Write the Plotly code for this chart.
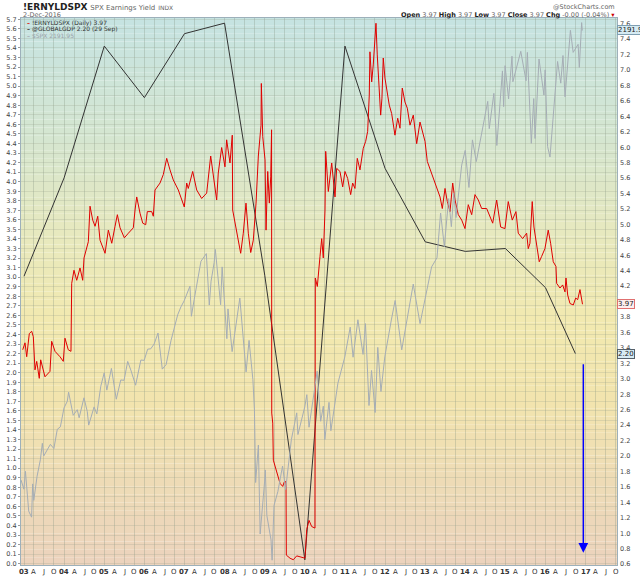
import pandas as pd
import plotly.graph_objects as go

# !ERNYLDSPX (daily), decimal year -> yield (right scale)
red_t = [2002.968, 2003.025, 2003.067, 2003.132, 2003.192, 2003.232, 2003.274, 2003.317, 2003.381, 2003.416,
         2003.523, 2003.648, 2003.690, 2003.773, 2003.897, 2003.980, 2004.022, 2004.104, 2004.171, 2004.189,
         2004.246, 2004.314, 2004.396, 2004.463, 2004.496, 2004.578, 2004.603, 2004.645, 2004.712, 2004.770,
         2004.837, 2004.894, 2005.019, 2005.101, 2005.186, 2005.268, 2005.326, 2005.393, 2005.500, 2005.600,
         2005.724, 2005.767, 2005.809, 2005.891, 2005.959, 2006.033, 2006.073, 2006.183, 2006.223, 2006.265,
         2006.390, 2006.472, 2006.557, 2006.639, 2006.721, 2006.846, 2006.996, 2007.055, 2007.095, 2007.205,
         2007.305, 2007.429, 2007.554, 2007.654, 2007.718, 2007.803, 2007.843, 2007.928, 2008.010, 2008.052,
         2008.135, 2008.192, 2008.202, 2008.259, 2008.317, 2008.401, 2008.466, 2008.533, 2008.591, 2008.651,
         2008.715, 2008.783, 2008.840, 2008.907, 2008.915, 2008.950, 2009.007, 2009.032, 2009.074, 2009.114,
         2009.149, 2009.170, 2009.174, 2009.199, 2009.214, 2009.256, 2009.299, 2009.381, 2009.448, 2009.488,
         2009.530, 2009.538, 2009.630, 2009.712, 2009.797, 2009.922, 2010.004, 2010.046, 2010.104, 2010.171,
         2010.253, 2010.261, 2010.311, 2010.378, 2010.420, 2010.460, 2010.503, 2010.520, 2010.545, 2010.585,
         2010.670, 2010.752, 2010.794, 2010.876, 2010.944, 2011.001, 2011.068, 2011.143, 2011.193, 2011.250,
         2011.308, 2011.375, 2011.457, 2011.517, 2011.567, 2011.607, 2011.624, 2011.667, 2011.706, 2011.749,
         2011.774, 2011.806, 2011.856, 2011.891, 2011.923, 2011.956, 2011.998, 2012.055, 2012.105, 2012.165,
         2012.247, 2012.315, 2012.372, 2012.429, 2012.496, 2012.554, 2012.621, 2012.703, 2012.788, 2012.870,
         2012.928, 2012.995, 2013.052, 2013.137, 2013.219, 2013.302, 2013.369, 2013.426, 2013.494, 2013.551,
         2013.618, 2013.685, 2013.743, 2013.825, 2013.910, 2013.992, 2014.074, 2014.159, 2014.241, 2014.324,
         2014.408, 2014.533, 2014.683, 2014.782, 2014.882, 2014.989, 2015.071, 2015.171, 2015.263, 2015.321,
         2015.430, 2015.530, 2015.570, 2015.612, 2015.669, 2015.712, 2015.779, 2015.844, 2015.904, 2015.986,
         2016.068, 2016.128, 2016.193, 2016.260, 2016.278, 2016.360, 2016.427, 2016.485, 2016.510, 2016.552,
         2016.609, 2016.691, 2016.751, 2016.801, 2016.858, 2016.900, 2016.921]
red_v = [3.38, 3.47, 3.29, 3.59, 3.62, 3.55, 3.12, 3.23, 3.01, 3.25,
         3.03, 3.10, 3.49, 3.36, 3.29, 3.23, 3.53, 3.38, 3.36, 4.24,
         4.41, 4.28, 4.44, 4.28, 4.57, 4.72, 4.78, 5.24, 5.06, 4.98,
         5.11, 4.80, 4.63, 4.93, 4.76, 4.98, 5.13, 4.96, 4.83, 4.89,
         4.96, 5.19, 5.36, 5.15, 5.02, 5.00, 5.17, 5.17, 5.11, 5.45,
         5.54, 5.65, 5.86, 5.71, 5.58, 5.45, 5.23, 5.54, 5.47, 5.69,
         5.45, 5.34, 5.41, 5.89, 5.62, 5.32, 5.67, 6.00, 5.75, 6.10,
         5.80, 6.16, 5.19, 5.02, 4.85, 4.63, 4.89, 5.28, 4.89, 4.64,
         4.80, 5.28, 5.89, 6.29, 6.83, 6.14, 5.84, 4.93, 5.69, 5.28,
         5.62, 6.23, 2.56, 2.43, 1.95, 1.87, 1.78, 1.65, 1.61, 1.67,
         1.67, 0.72, 0.68, 0.66, 0.71, 0.69, 0.68, 1.05, 1.17, 1.09,
         1.07, 4.31, 4.20, 4.59, 4.82, 4.57, 5.19, 5.95, 5.69, 5.43,
         5.80, 5.36, 5.73, 5.69, 5.49, 5.69, 5.60, 5.39, 5.54, 5.47,
         5.86, 5.71, 5.99, 6.08, 6.21, 6.68, 7.24, 6.85, 7.07, 7.46,
         7.61, 7.20, 6.81, 6.42, 6.64, 7.16, 6.90, 6.72, 6.55, 6.44,
         6.16, 6.38, 6.25, 6.77, 6.59, 6.51, 6.29, 6.42, 6.05, 6.33,
         6.21, 6.08, 5.82, 5.69, 5.56, 5.45, 5.36, 5.21, 5.47, 5.30,
         5.17, 5.54, 5.32, 5.13, 5.06, 4.95, 5.26, 5.13, 5.39, 5.32,
         5.21, 5.21, 5.02, 5.32, 4.97, 4.95, 5.30, 5.06, 5.17, 4.89,
         4.82, 4.89, 4.69, 4.76, 5.30, 4.97, 4.72, 4.52, 4.59, 4.69,
         4.93, 4.76, 4.52, 4.46, 4.24, 4.18, 4.22, 4.13, 4.31, 4.09,
         3.98, 3.96, 4.05, 4.03, 4.16, 3.98, 3.97]

# @GLOBALGDP (left scale)
gdp_dates = ["2003-01-01", "2004-01-01", "2005-01-01", "2006-01-01", "2007-01-01", "2008-01-01",
             "2009-01-01", "2010-01-01", "2011-01-01", "2012-01-01", "2013-01-01", "2014-01-01",
             "2015-01-01", "2016-01-01", "2016-09-29"]
gdp_vals = [3.01, 4.04, 5.42, 4.88, 5.55, 5.66, 3.02, 0.04, 5.42, 4.14, 3.37, 3.27, 3.30, 2.89, 2.20]

# $SPX (own hidden scale)
spx_dates = ["2002-12-05", "2002-12-31", "2003-01-14", "2003-01-31", "2003-02-13", "2003-03-11", "2003-03-21",
             "2003-03-31", "2003-04-30", "2003-05-30", "2003-06-17", "2003-06-30", "2003-07-31", "2003-08-29",
             "2003-09-30", "2003-10-31", "2003-11-28", "2003-12-31", "2004-01-30", "2004-02-11", "2004-03-24",
             "2004-04-30", "2004-05-17", "2004-06-30", "2004-07-30", "2004-08-12", "2004-09-30", "2004-10-25",
             "2004-11-30", "2004-12-31", "2005-01-24", "2005-03-07", "2005-04-20", "2005-05-31", "2005-06-30",
             "2005-08-02", "2005-08-31", "2005-10-13", "2005-11-30", "2005-12-30", "2006-01-31", "2006-02-28",
             "2006-03-31", "2006-05-05", "2006-06-13", "2006-07-18", "2006-08-31", "2006-09-29", "2006-10-31",
             "2006-11-30", "2006-12-29", "2007-02-20", "2007-03-05", "2007-03-30", "2007-04-30", "2007-05-31",
             "2007-07-19", "2007-08-15", "2007-08-31", "2007-09-28", "2007-10-09", "2007-11-26", "2007-12-10",
             "2008-01-22", "2008-02-01", "2008-03-10", "2008-05-19", "2008-07-15", "2008-08-11", "2008-09-15",
             "2008-09-29", "2008-10-10", "2008-11-04", "2008-11-20", "2008-12-31", "2009-01-06", "2009-01-20",
             "2009-02-27", "2009-03-09", "2009-03-26", "2009-04-30", "2009-06-12", "2009-07-10", "2009-08-31",
             "2009-10-19", "2009-10-30", "2009-12-31", "2010-01-19", "2010-02-08", "2010-04-23", "2010-05-25",
             "2010-06-18", "2010-07-02", "2010-08-09", "2010-08-26", "2010-10-29", "2010-12-31", "2011-02-18",
             "2011-03-16", "2011-04-29", "2011-06-15", "2011-07-07", "2011-08-08", "2011-08-31", "2011-10-03",
             "2011-10-27", "2011-11-25", "2011-12-30", "2012-02-29", "2012-04-02", "2012-06-01", "2012-07-31",
             "2012-09-14", "2012-11-15", "2012-12-31", "2013-02-28", "2013-04-18", "2013-05-21", "2013-06-24",
             "2013-08-02", "2013-08-27", "2013-09-18", "2013-10-08", "2013-11-29", "2013-12-31", "2014-02-03",
             "2014-03-07", "2014-04-11", "2014-07-24", "2014-08-07", "2014-09-18", "2014-10-15", "2014-12-05",
             "2014-12-16", "2014-12-29", "2015-01-30", "2015-03-02", "2015-03-10", "2015-05-21", "2015-07-08",
             "2015-07-20", "2015-08-25", "2015-09-16", "2015-09-28", "2015-11-03", "2015-12-18", "2015-12-29",
             "2016-01-20", "2016-02-11", "2016-04-20", "2016-05-19", "2016-06-08", "2016-06-27", "2016-08-15",
             "2016-09-09", "2016-10-24", "2016-11-04", "2016-11-25", "2016-12-01", "2016-12-02"]
spx_vals = [906, 880, 931, 856, 817, 800, 895, 848, 917, 964, 1011, 975, 990, 1008,
            996, 1051, 1058, 1112, 1131, 1157, 1091, 1107, 1084, 1141, 1102, 1063, 1115, 1095,
            1174, 1212, 1163, 1225, 1137, 1192, 1191, 1245, 1220, 1177, 1249, 1248, 1280, 1281,
            1295, 1326, 1223, 1236, 1304, 1336, 1378, 1401, 1418, 1460, 1374, 1421, 1482, 1531,
            1553, 1406, 1474, 1527, 1565, 1407, 1515, 1310, 1395, 1273, 1426, 1215, 1305, 1193,
            1106, 899, 1006, 752, 903, 935, 805, 735, 677, 833, 873, 946, 879, 1021,
            1098, 1036, 1115, 1150, 1057, 1217, 1074, 1117, 1022, 1128, 1047, 1183, 1258, 1343,
            1257, 1364, 1265, 1353, 1119, 1219, 1099, 1285, 1159, 1258, 1366, 1419, 1278, 1379,
            1466, 1353, 1426, 1515, 1541, 1669, 1573, 1710, 1630, 1726, 1656, 1806, 1848, 1742,
            1878, 1816, 1988, 1910, 2011, 1862, 2075, 1973, 2090, 1995, 2117, 2044, 2131, 2047,
            2128, 1868, 1996, 1882, 2109, 2006, 2078, 1859, 1829, 2102, 2040, 2119, 2001, 2191,
            2128, 2151, 2085, 2213, 2191, 2191.9]

# right-hand scale labels (earnings yield)
right_ticks = [round(0.6 + 0.2 * i, 1) for i in range(36)]


def dec_year(y):
    yr = int(y)
    start = pd.Timestamp(yr, 1, 1)
    return start + (pd.Timestamp(yr + 1, 1, 1) - start) * (y - yr)


red_dates = [dec_year(t) for t in red_t]

RED = "#e00000"
BLACK = "#333333"
GRAY = "#a5adb5"
FONT = "DejaVu Sans"

fig = go.Figure()
fig.add_trace(go.Scatter(x=pd.to_datetime(spx_dates), y=spx_vals, yaxis="y3", mode="lines",
                         line=dict(color=GRAY, width=1)))
fig.add_trace(go.Scatter(x=red_dates, y=red_v, yaxis="y2", mode="lines",
                         line=dict(color=RED, width=1)))
fig.add_trace(go.Scatter(x=pd.to_datetime(gdp_dates), y=gdp_vals, yaxis="y", mode="lines",
                         line=dict(color=BLACK, width=1)))

# quarterly ticks: year number at Jan, A / J / O for the other quarters
tickvals, ticktext = [], []
for yr in range(2003, 2018):
    for m, lab in [(1, None), (4, "A"), (7, "J"), (10, "O")]:
        tickvals.append(pd.Timestamp(yr, m, 1))
        ticktext.append("<b>%02d</b>" % (yr % 100) if lab is None else lab)

# background gradient (bottom -> top)
stops = [(0.0, (236, 211, 189)), (0.16, (238, 220, 182)), (0.3, (242, 228, 174)),
         (0.45, (242, 233, 176)), (0.6, (232, 233, 190)), (0.78, (213, 230, 208)), (1.0, (197, 227, 226))]
shapes = []
n = 70
for i in range(n):
    p = (i + 0.5) / n
    for (a, ca), (b, cb) in zip(stops[:-1], stops[1:]):
        if a <= p <= b:
            f = (p - a) / (b - a)
            c = tuple(int(round(ca[k] + (cb[k] - ca[k]) * f)) for k in range(3))
            break
    shapes.append(dict(type="rect", xref="paper", yref="paper", x0=0, x1=1, y0=i / n, y1=(i + 1) / n,
                       fillcolor="rgb(%d,%d,%d)" % c, line=dict(width=0), layer="below"))

ann = []
# x tick labels
for tv, tt in zip(tickvals, ticktext):
    if tv > dec_year(2017.781):
        continue
    ann.append(dict(x=tv, y=0, xref="x", yref="paper", yanchor="top", yshift=-1, showarrow=False,
                    text=tt, font=dict(family=FONT, size=7, color="#333")))
# right-hand tick labels
for v in right_ticks:
    ann.append(dict(x=1, y=v, xref="paper", yref="y2", xanchor="left", xshift=1, showarrow=False,
                    text="%.1f" % v, font=dict(family=FONT, size=6.5, color="#444")))

ann += [
    dict(x=0, y=1.021, xref="paper", yref="paper", xanchor="left", yanchor="middle", showarrow=False,
         text="<b>!ERNYLDSPX</b> <span style='font-size:7px;color:#666'>SPX Earnings Yield</span>"
              " <span style='font-size:6px;color:#666'>INDX</span>",
         font=dict(family=FONT, size=9, color="#222")),
    dict(x=0, y=1.005, xref="paper", yref="paper", xanchor="left", yanchor="middle", showarrow=False,
         text="2-Dec-2016", font=dict(family=FONT, size=6.5, color="#666")),
    dict(x=1, y=1.021, xref="paper", yref="paper", xanchor="right", yanchor="middle", showarrow=False,
         text="@StockCharts.com", font=dict(family=FONT, size=6.5, color="#666")),
    dict(x=1, y=1.005, xref="paper", yref="paper", xanchor="right", yanchor="middle", showarrow=False,
         text="<b>Open</b> <span style='color:#666'>3.97</span> <b>High</b> <span style='color:#666'>3.97</span>"
              " <b>Low</b> <span style='color:#666'>3.97</span> <b>Close</b> <span style='color:#666'>3.97</span>"
              " <b>Chg</b> <span style='color:#666'>-0.00 (-0.04%)</span> <span style='color:#c00'>▾</span>",
         font=dict(family=FONT, size=6.5, color="#222")),
    dict(x=0.006, y=0.9915, xref="paper", yref="paper", xanchor="left", yanchor="middle", showarrow=False,
         text="<span style='color:%s'><b>–</b></span> !ERNYLDSPX (Daily) %.2f" % (RED, red_v[-1]),
         font=dict(family=FONT, size=6, color="#333")),
    dict(x=0.006, y=0.980, xref="paper", yref="paper", xanchor="left", yanchor="middle", showarrow=False,
         text="<span style='color:%s'><b>–</b></span> @GLOBALGDP %.2f (29 Sep)" % (BLACK, gdp_vals[-1]),
         font=dict(family=FONT, size=6, color="#333")),
    dict(x=0.006, y=0.9685, xref="paper", yref="paper", xanchor="left", yanchor="middle", showarrow=False,
         text="<span style='color:%s'><b>–</b></span> $SPX %.2f" % (GRAY, 2191.95),
         font=dict(family=FONT, size=6, color="#9aa2aa")),
    # last-value tags on the right edge
    dict(x=1, y=spx_vals[-1], xref="paper", yref="y3", xanchor="left", yanchor="middle", showarrow=False,
         text="%.1f" % spx_vals[-1], bgcolor="#d6ebf3", bordercolor="#7f9fb2", borderwidth=1, borderpad=0,
         font=dict(family=FONT, size=7, color="#222")),
    dict(x=1, y=red_v[-1], xref="paper", yref="y2", xanchor="left", yanchor="middle", showarrow=False,
         text="%.2f" % red_v[-1], bgcolor="#fdeeee", bordercolor="#e07070", borderwidth=1, borderpad=0,
         font=dict(family=FONT, size=7, color="#222")),
    dict(x=1, y=gdp_vals[-1], xref="paper", yref="y", xanchor="left", yanchor="middle", showarrow=False,
         text="%.2f" % gdp_vals[-1], bgcolor="#d6ebf3", bordercolor="#55606a", borderwidth=1, borderpad=0,
         font=dict(family=FONT, size=7, color="#222")),
    # blue down arrow
    dict(x=0.9435, y=0.0225, xref="paper", yref="paper", text="", showarrow=True, ax=0, ay=-190,
         arrowhead=2, arrowsize=1.3, arrowwidth=1.5, arrowcolor="#0000ff"),
]

fig.update_layout(
    width=640, height=576,
    margin=dict(l=21, r=23, t=18, b=11, autoexpand=False),
    paper_bgcolor="white", plot_bgcolor="rgba(0,0,0,0)",
    showlegend=False,
    shapes=shapes,
    annotations=ann,
    xaxis=dict(type="date", range=[dec_year(2002.925), dec_year(2017.781)], automargin=False,
               tickvals=tickvals, showticklabels=False,
               showgrid=True, gridcolor="rgba(130,145,125,0.3)", gridwidth=1, ticks="",
               showline=True, mirror=True, linecolor="#9db0ba", linewidth=1, zeroline=False),
    yaxis=dict(range=[-0.014, 5.714], tick0=0, dtick=0.1, tickformat=".1f", automargin=False,
               showgrid=True, gridcolor="rgba(150,160,140,0.25)", gridwidth=1, zeroline=False,
               ticks="outside", ticklen=2, tickcolor="#999",
               tickfont=dict(family=FONT, size=6.5, color="#444"),
               showline=True, mirror=True, linecolor="#9db0ba", linewidth=1),
    yaxis2=dict(range=[0.592, 7.678], overlaying="y", side="right", automargin=False,
                showgrid=False, zeroline=False, showticklabels=False, ticks=""),
    yaxis3=dict(range=[663.3, 2226.2], overlaying="y", visible=False, automargin=False),
)

# the page's default body margin would shift the 640x576 figure off the window
fig.write_html("out.html", config={"displayModeBar": False},
               post_script="document.body.style.margin = '0px';")
